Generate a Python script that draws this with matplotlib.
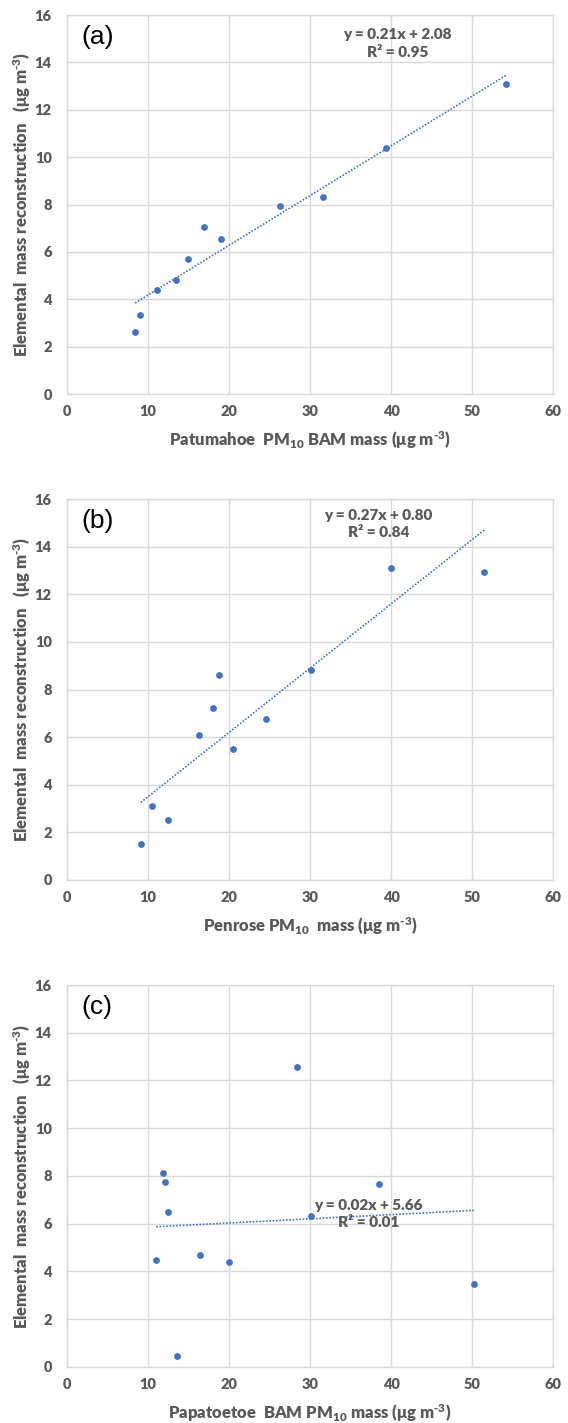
import matplotlib
matplotlib.use("Agg")
import matplotlib.pyplot as plt

# data
x_a = [8.4, 9.0, 11.1, 13.5, 14.9, 16.9, 19.0, 26.3, 31.6, 39.4, 54.2]
y_a = [2.62, 3.35, 4.38, 4.81, 5.70, 7.05, 6.54, 7.93, 8.32, 10.39, 13.09]

x_b = [9.1, 10.5, 12.4, 16.3, 18.0, 18.8, 20.5, 24.6, 30.1, 40.0, 51.5]
y_b = [1.53, 3.12, 2.51, 6.09, 7.23, 8.62, 5.51, 6.75, 8.80, 13.11, 12.93]

x_c = [11.0, 11.9, 12.1, 12.4, 13.6, 16.4, 20.0, 28.4, 30.1, 38.5, 50.2]
y_c = [4.49, 8.13, 7.76, 6.48, 0.45, 4.71, 4.40, 12.58, 6.32, 7.66, 3.47]

# linear trend lines (slope, intercept)
trend_a = (0.21, 2.08)
trend_b = (0.27, 0.80)
trend_c = (0.0175, 5.68)

eq_a = "y = 0.21x + 2.08\nR² = 0.95"
eq_b = "y = 0.27x + 0.80\nR² = 0.84"
eq_c = "y = 0.02x + 5.66\nR² = 0.01"

xlabels = [r"Patumahoe  PM$_{10}$ BAM mass (μg m$^{\text{-3}}$)",
           r"Penrose PM$_{10}$  mass (μg m$^{\text{-3}}$)",
           r"Papatoetoe  BAM PM$_{10}$ mass (μg m$^{\text{-3}}$)"]
ylabel = r"Elemental  mass reconstruction   (μg m$^{\text{-3}}$)"
tags = ["(a)", "(b)", "(c)"]

W = 800  # heavy weight, closer to the original's bold text
plt.rcParams['font.family'] = ['Lato', 'DejaVu Sans']
plt.rcParams['font.weight'] = W
plt.rcParams['mathtext.fontset'] = 'custom'
plt.rcParams['mathtext.rm'] = 'Lato:weight=800'
plt.rcParams['mathtext.it'] = 'Lato:weight=800'
plt.rcParams['mathtext.bf'] = 'Lato:weight=800'
plt.rcParams['mathtext.default'] = 'regular'

blue = '#4472C4'
grey = '#595959'
grid = '#D9D9D9'

fig = plt.figure(figsize=(5.68, 14.23), dpi=100)
boxes = [[0.118, 0.7231, 0.856, 0.2663],
         [0.118, 0.3816, 0.856, 0.2677],
         [0.118, 0.0394, 0.856, 0.2684]]
eq_pos = [(0.68, 0.925), (0.64, 0.935), (0.62, 0.40)]

panels = [(x_a, y_a, trend_a, eq_a), (x_b, y_b, trend_b, eq_b), (x_c, y_c, trend_c, eq_c)]

for i, (xs, ys, tr, eq) in enumerate(panels):
    ax = fig.add_axes(boxes[i])
    ax.set_xlim(0, 60)
    ax.set_ylim(0, 16)
    ax.set_xticks(range(0, 61, 10))
    ax.set_yticks(range(0, 17, 2))
    ax.grid(True, color=grid, linewidth=1, zorder=0)
    for s in ax.spines.values():
        s.set_color(grid)
        s.set_linewidth(1)
    ax.tick_params(length=0, labelsize=10.5, labelcolor=grey)
    ax.tick_params(axis='x', pad=8)
    ax.tick_params(axis='y', pad=11)

    x0, x1 = min(xs), max(xs)
    ax.plot([x0, x1], [tr[0] * x0 + tr[1], tr[0] * x1 + tr[1]],
            color=blue, linestyle=(0, (1, 1)), linewidth=1.2, zorder=2)
    ax.scatter(xs, ys, s=24, color=blue, zorder=3, linewidths=0)

    ax.text(eq_pos[i][0], eq_pos[i][1], eq, transform=ax.transAxes,
            ha='center', va='center', fontsize=11, fontweight=W,
            color=grey, linespacing=1.4)
    ax.text(0.03, 0.942, tags[i], transform=ax.transAxes, ha='left',
            va='center', fontsize=19, fontweight='normal',
            family='Liberation Sans', color='black')

    ax.set_xlabel(xlabels[i], fontsize=12, fontweight=W, color=grey, va='center')
    ax.xaxis.set_label_coords(0.5, -0.121)
    ax.set_ylabel(ylabel, fontsize=12, fontweight=W, color=grey, va='center')
    ax.yaxis.set_label_coords(-0.093, 0.5)

fig.savefig("out.png", dpi=100)
